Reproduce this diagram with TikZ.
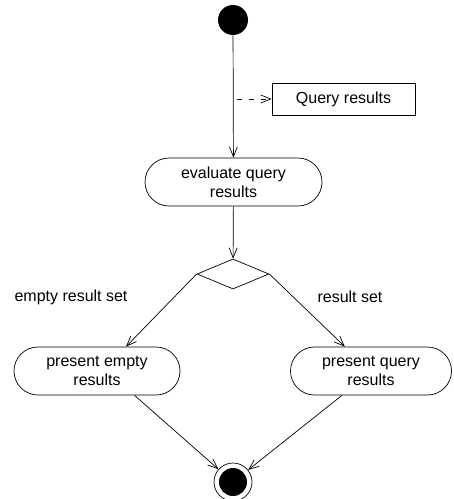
\documentclass[tikz,border=0pt]{standalone}
\usepackage{fontspec}
\setmainfont{Liberation Sans}
\usetikzlibrary{arrows.meta,shapes.misc,shapes.geometric}
\tikzset{
  flow/.style={-{Straight Barb[length=10pt,width=8pt]}},
  activity/.style={draw, rounded rectangle, minimum height=48pt, align=center, inner sep=2pt},
}
\begin{document}
\begin{tikzpicture}[x=1pt,y=-1pt,line width=0.7pt,font=\fontsize{16}{19}\selectfont]
    \useasboundingbox (0,0) rectangle (454,499);
    \node[circle, fill=black, inner sep=0pt, minimum size=30pt] (start) at (233,20) {};
    \node[draw, minimum width=143pt, minimum height=32pt] (query) at (343.5,99) {Query results};
    \node[activity, minimum width=181pt] (eval) at (233.5,182) {evaluate query\\results};
    \node[draw, diamond, inner sep=0pt, minimum width=72pt, minimum height=30pt] (dec) at (233,274) {};
    \node[activity, minimum width=170pt] (empty) at (97,371) {present empty\\results};
    \node[activity, minimum width=165pt] (present) at (371,371) {present query\\results};
    \node[circle, draw, inner sep=0pt, minimum size=38pt] (end) at (233,482) {};
    \node[circle, fill=black, inner sep=0pt, minimum size=28pt] (endin) at (233,482) {};
    \node (lempty) at (71,297) {empty result set};
    \node (lset) at (350,297) {result set};
    \coordinate (qsrc) at (237,99);
    \draw[flow] (start) -- (eval);
    \draw[flow, dash pattern=on 5pt off 7pt] (qsrc) -- (query.west);
    \draw[flow] (eval) -- (dec);
    \draw[flow] (dec.west) -- (empty.40.6);
    \draw[flow] (dec.east) -- (present.137.3);
    \draw[flow] (empty.-33.7) -- (end);
    \draw[flow] (present.-140.4) -- (end);
\end{tikzpicture}
\end{document}
